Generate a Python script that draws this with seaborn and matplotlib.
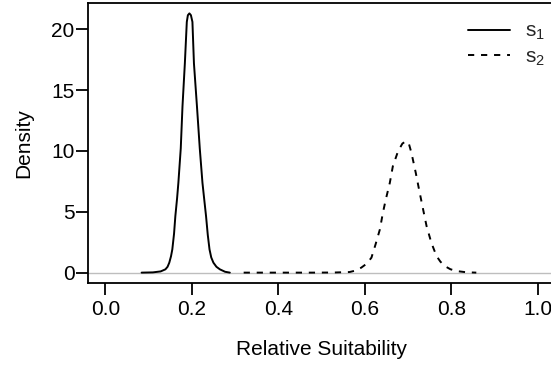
import matplotlib
matplotlib.use('Agg')
import matplotlib.pyplot as plt
import seaborn as sns
import pandas as pd

# ---- data ----
s1_x = [0.084, 0.110, 0.128, 0.139, 0.144, 0.148, 0.152, 0.155, 0.159, 0.162,
        0.166, 0.169, 0.1745, 0.1785, 0.184, 0.1885, 0.191, 0.1945, 0.198, 0.2015,
        0.205, 0.212, 0.2185, 0.2247, 0.229, 0.233, 0.237, 0.241, 0.245, 0.250,
        0.257, 0.265, 0.277, 0.288]
s1_y = [0.0, 0.02, 0.10, 0.27, 0.48, 0.82, 1.35, 1.91, 3.20, 4.64,
        6.10, 7.38, 10.2, 13.65, 17.2, 20.6, 21.15, 21.3, 21.15, 20.6,
        17.2, 13.65, 10.2, 7.38, 5.95, 4.64, 3.10, 1.91, 1.25, 0.82,
        0.48, 0.27, 0.07, 0.0]

s2_x = [0.320, 0.400, 0.480, 0.530, 0.565, 0.580, 0.592, 0.605, 0.6155, 0.625,
        0.635, 0.642, 0.6486, 0.658, 0.665, 0.677, 0.687, 0.695, 0.702, 0.708,
        0.718, 0.7256, 0.735, 0.743, 0.754, 0.766, 0.775, 0.785, 0.798, 0.812,
        0.835, 0.858]
s2_y = [0.0, 0.0, 0.0, 0.01, 0.05, 0.18, 0.41, 0.75, 1.23, 2.32,
        3.55, 4.92, 6.0, 7.38, 8.74, 9.97, 10.6, 10.8, 10.6, 9.84,
        8.2, 6.83, 5.19, 3.82, 2.46, 1.36, 0.90, 0.54, 0.28, 0.13,
        0.03, 0.0]

series_names = ["s1", "s2"]
legend_labels = [r"$\mathrm{s}_1$", r"$\mathrm{s}_2$"]
x_ticks = [0.0, 0.2, 0.4, 0.6, 0.8, 1.0]
y_ticks = [0, 5, 10, 15, 20]
x_label = "Relative Suitability"
y_label = "Density"

df = pd.concat([
    pd.DataFrame({"x": s1_x, "y": s1_y, "series": series_names[0]}),
    pd.DataFrame({"x": s2_x, "y": s2_y, "series": series_names[1]}),
], ignore_index=True)

sns.set_style("ticks")
plt.rcParams['font.family'] = ['Liberation Sans', 'DejaVu Sans']
plt.rcParams['mathtext.fontset'] = 'custom'
plt.rcParams['mathtext.rm'] = 'Liberation Sans'
plt.rcParams['mathtext.it'] = 'Liberation Sans:italic'

FS = 15
W, H = 551, 366
fig = plt.figure(figsize=(W / 100, H / 100), dpi=100)
ax = fig.add_axes([88 / W, 1 - 283 / H, 467 / W, 280 / H])

ax.axhline(0, color="#BEBEBE", lw=1.0, zorder=1)

sns.lineplot(data=df, x="x", y="y", style="series", color="black",
             dashes={"s1": "", "s2": (3.2, 3.5)}, lw=1.4, sort=False,
             estimator=None, legend=False, ax=ax, zorder=3)

ax.set_xlim(-0.04, 1.04)
ax.set_ylim(-0.852, 22.152)
ax.set_xticks(x_ticks)
ax.set_xticklabels([f"{v:.1f}" for v in x_ticks])
ax.set_yticks(y_ticks)
ax.set_yticklabels([str(v) for v in y_ticks])

for s in ax.spines.values():
    s.set_visible(True)
    s.set_linewidth(1.3)
    s.set_color("black")

ax.tick_params(axis="both", length=8.6, width=1.3, color="black",
               labelsize=FS, labelcolor="black")
ax.tick_params(axis="x", pad=3.5)
ax.tick_params(axis="y", pad=1.0)

ax.set_xlabel(x_label, fontsize=FS, color="black")
ax.set_ylabel(y_label, fontsize=FS, color="black")
ax.xaxis.set_label_coords(0.5, -0.205)
ax.yaxis.set_label_coords(-0.117, 0.5)

handles = ax.get_lines()[1:3]
leg = fig.legend(handles, legend_labels, loc="upper left",
                 bbox_to_anchor=(468 / W, 1 - 22 / H),
                 frameon=False, fontsize=FS, handlelength=2.0,
                 handletextpad=0.75, labelspacing=0.25, borderpad=0,
                 borderaxespad=0)

fig.savefig("out.png", dpi=100)
